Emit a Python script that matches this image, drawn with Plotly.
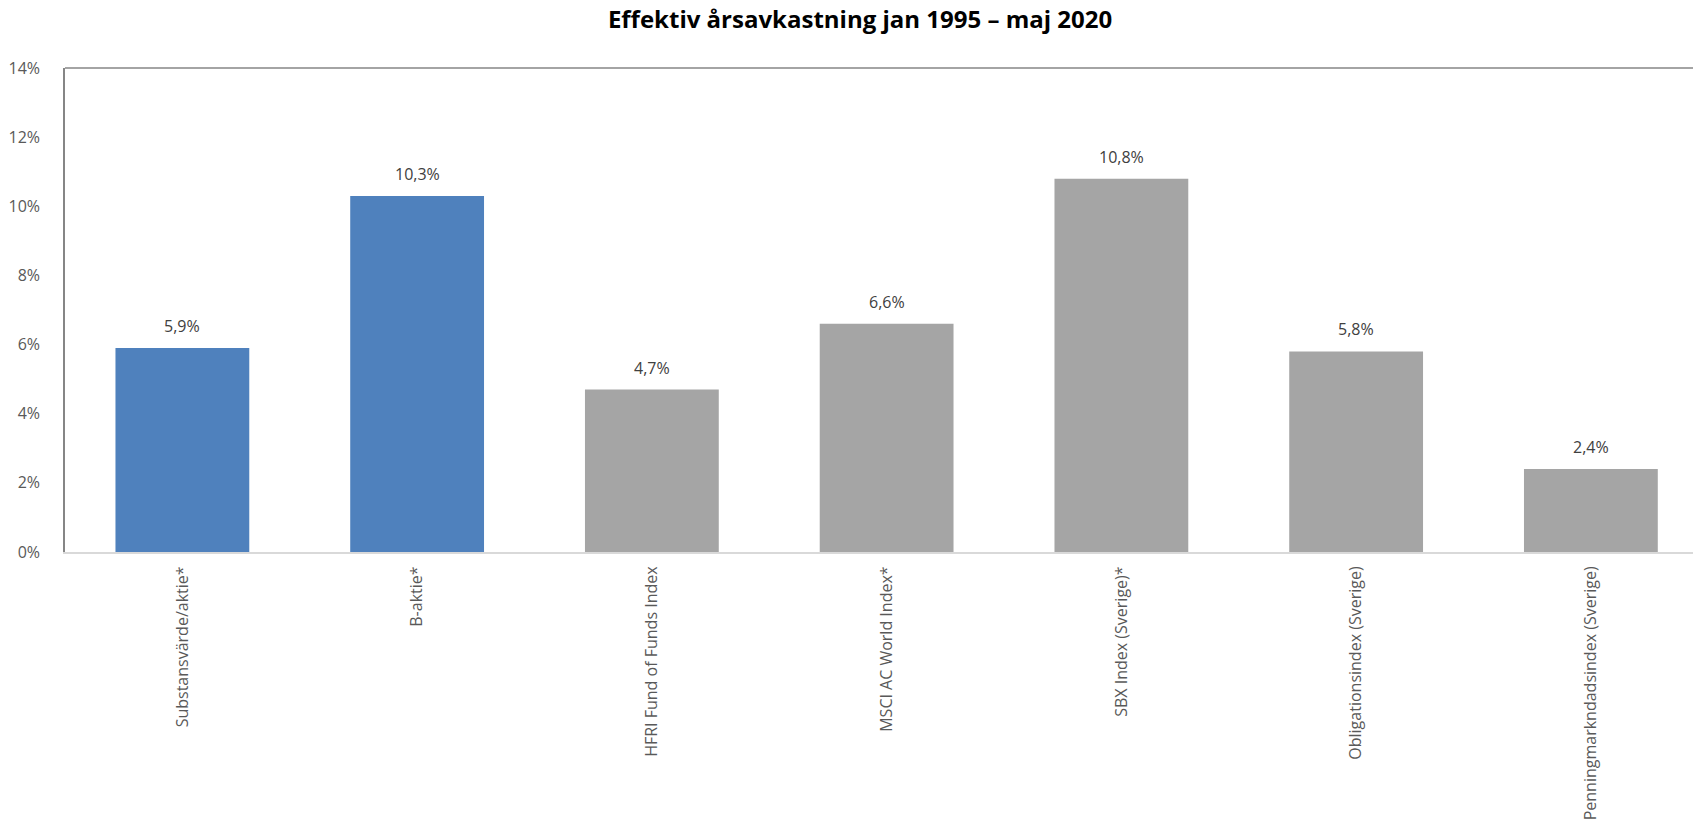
import plotly.graph_objects as go

categories = ["Substansvärde/aktie*", "B-aktie*", "HFRI Fund of Funds Index",
              "MSCI AC World Index*", "SBX Index (Sverige)*", "Obligationsindex (Sverige)",
              "Penningmarkndadsindex (Sverige)"]
values = [5.9, 10.3, 4.7, 6.6, 10.8, 5.8, 2.4]
value_labels = ["5,9%", "10,3%", "4,7%", "6,6%", "10,8%", "5,8%", "2,4%"]
bar_colors = ["#4F81BD", "#4F81BD", "#A5A5A5", "#A5A5A5", "#A5A5A5", "#A5A5A5", "#A5A5A5"]
y_ticks = [0, 2, 4, 6, 8, 10, 12, 14]
y_tick_labels = ["0%", "2%", "4%", "6%", "8%", "10%", "12%", "14%"]
title = "Effektiv årsavkastning jan 1995 – maj 2020"

FONT = "Open Sans"

fig = go.Figure()
fig.add_trace(go.Bar(
    x=categories, y=values,
    marker=dict(color=bar_colors, line=dict(width=0)),
    hoverinfo="x+y",
))

for c, v, t in zip(categories, values, value_labels):
    fig.add_annotation(x=c, y=v, text=t, showarrow=False, yanchor="bottom",
                       yshift=9, font=dict(family=FONT, size=16, color="#404040"))

fig.add_shape(type="line", xref="paper", yref="paper", x0=0, x1=1, y0=1, y1=1,
              line=dict(color="#868686", width=1.5))

fig.update_layout(
    width=1693, height=825,
    margin=dict(l=65, r=0, t=68, b=273),
    paper_bgcolor="white", plot_bgcolor="white",
    bargap=0.43,
    showlegend=False,
    title=dict(text="<b>" + title + "</b>", x=0.508, xanchor="center", y=0.976, yanchor="middle",
               font=dict(family=FONT, size=24, color="#000000")),
    font=dict(family=FONT, size=16, color="#595959"),
    xaxis=dict(range=[-0.5, 6.435], tickangle=-90, showline=True, linecolor="#D9D9D9",
               linewidth=2, showgrid=False, ticks="", ticklabelstandoff=6,
               tickfont=dict(family=FONT, size=16, color="#595959"), fixedrange=True),
    yaxis=dict(range=[0, 14], tickvals=y_ticks, ticktext=y_tick_labels, showgrid=False,
               showline=True, linecolor="#868686", linewidth=1.5, zeroline=False, ticks="",
               ticklabelstandoff=20, tickfont=dict(family=FONT, size=16, color="#595959"),
               fixedrange=True),
)

fig.write_html("out.html")
